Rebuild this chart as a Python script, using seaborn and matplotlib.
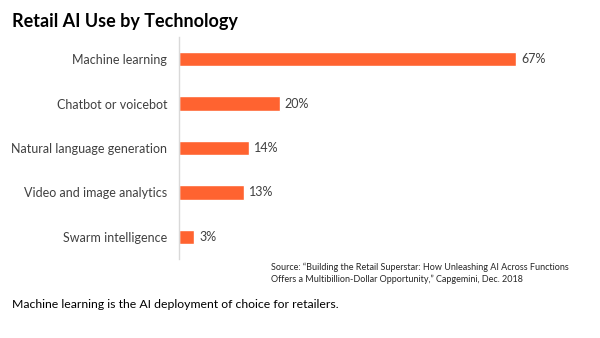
import matplotlib
matplotlib.use("Agg")
import matplotlib.pyplot as plt
import seaborn as sns
import pandas as pd

categories = ["Machine learning", "Chatbot or voicebot", "Natural language generation",
              "Video and image analytics", "Swarm intelligence"]
values = [67, 20, 14, 13, 3]
value_labels = ["67%", "20%", "14%", "13%", "3%"]

title = "Retail AI Use by Technology"
source = ("Source: \u201cBuilding the Retail Superstar: How Unleashing AI Across Functions\n"
          "Offers a Multibillion-Dollar Opportunity,\u201d Capgemini, Dec. 2018")
caption = "Machine learning is the AI deployment of choice for retailers."

sns.set_theme(style="white")
plt.rcParams['font.family'] = ['Lato', 'DejaVu Sans']

df = pd.DataFrame({"cat": categories, "val": values})

fig = plt.figure(figsize=(6, 3.38), dpi=100)
ax = fig.add_axes([179/600, 1 - 259/338, (540 - 179)/600, (259 - 37)/338])
sns.barplot(data=df, x="val", y="cat", color="#FF6330", saturation=1, width=0.32, ax=ax)

ax.set_xlim(0, (540 - 179) / 5.03)
ax.set_ylim(4.5, -0.5)
ax.set_xlabel("")
ax.set_ylabel("")
ax.set_xticks([])
for s in ["top", "right", "bottom"]:
    ax.spines[s].set_visible(False)
ax.spines["left"].set_color("#d9d9d9")
ax.spines["left"].set_linewidth(1)
ax.tick_params(axis="y", length=0, pad=8.5, labelsize=9, labelcolor="#404040")

for i, (v, lab) in enumerate(zip(values, value_labels)):
    ax.text(v + 1.0, i, lab, va="center", ha="left", fontsize=9, color="#404040")

fig.text(12/600, 1 - 21/338, title, fontsize=13, fontweight="bold", color="#000000",
         va="center", ha="left")
fig.text(271/600, 1 - 273/338, source, fontsize=6.5, color="#262626", va="center",
         ha="left", linespacing=1.35)
fig.text(12/600, 1 - 305/338, caption, fontsize=8.8, color="#000000", va="center", ha="left")

fig.savefig("out.png", dpi=100)
